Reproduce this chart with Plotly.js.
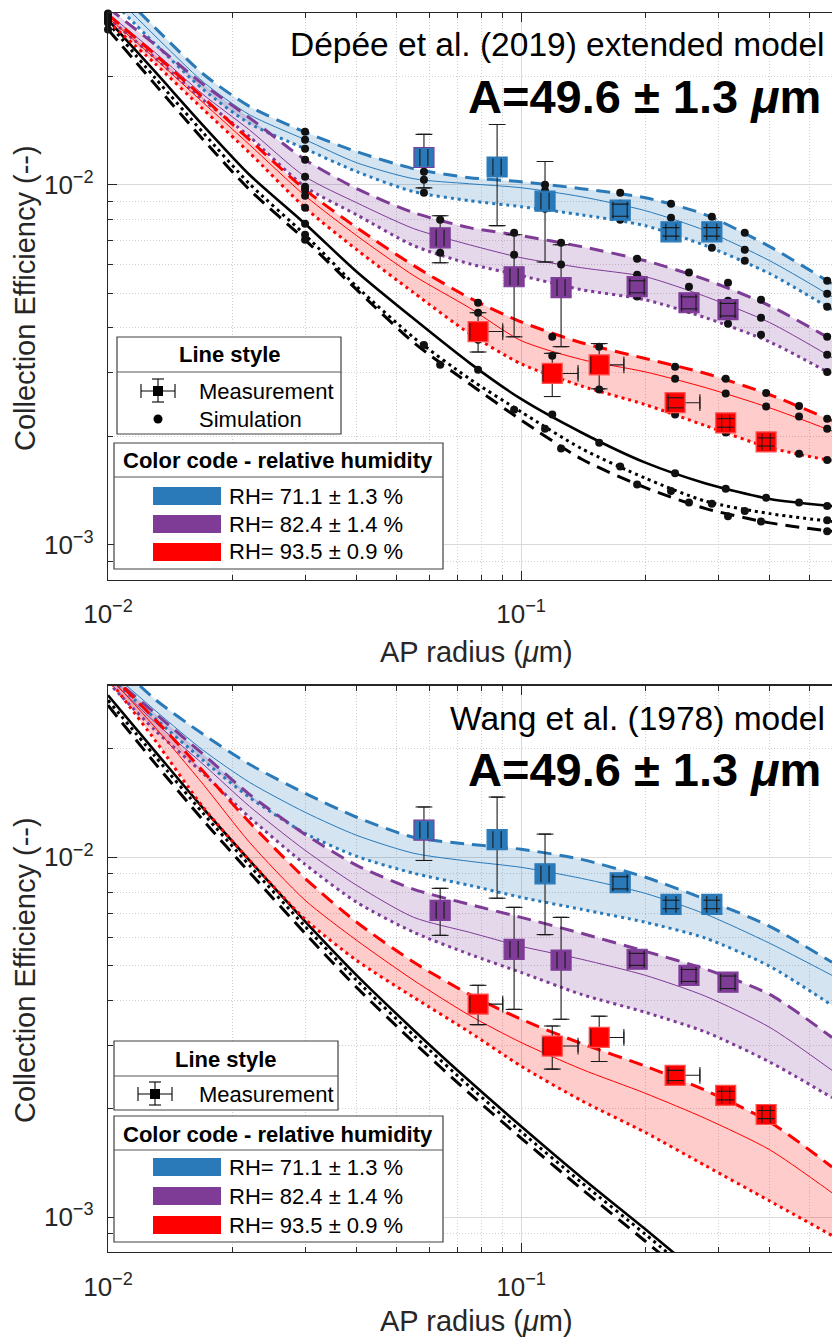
<!DOCTYPE html>
<html><head><meta charset="utf-8">
<script src="https://cdn.plot.ly/plotly-3.0.1.min.js"></script>
<style>html,body{margin:0;padding:0;background:#fff}#chart{width:832px;height:1339px}</style>
</head><body><div id="chart"></div>
<script>
// ---------------- DATA ----------------
const panelTitles = ['Dépée et al. (2019) extended model', 'Wang et al. (1978) model'];
const fitLabel = 'A=49.6 ± 1.3 <i>μ</i>m';
const rhLabels = ['RH= 71.1 ± 1.3 %', 'RH= 82.4 ± 1.4 %', 'RH= 93.5 ± 0.9 %'];
const xTickVals = [0.01, 0.1];
const xTickText = ['10<sup>−2</sup>', '10<sup>−1</sup>'];
const yTickVals = [0.001, 0.01];
const yTickText = ['10<sup>−3</sup>', '10<sup>−2</sup>'];

// model curves (AP radius, µm)
const curveX = [0.01, 0.013, 0.017, 0.022, 0.03, 0.04, 0.055, 0.075, 0.1, 0.14, 0.2, 0.28, 0.4, 0.566];

// Dépée et al. (2019) extended model
const depBlueHi   = [0.0369, 0.0273, 0.0203, 0.0165, 0.0140, 0.01235, 0.01108, 0.01046, 0.01019, 0.00975, 0.0092, 0.00825, 0.00673, 0.00531];
const depBlueMid  = [0.0350, 0.0259, 0.0193, 0.01565, 0.01334, 0.01151, 0.01039, 0.01006, 0.00981, 0.00926, 0.00847, 0.00745, 0.00615, 0.00489];
const depBlueLo   = [0.0333, 0.0246, 0.0184, 0.0148, 0.01259, 0.01087, 0.00956, 0.00903, 0.00869, 0.00825, 0.00769, 0.00677, 0.00566, 0.0045];
const depPurpleHi = [0.0310, 0.0245, 0.0190, 0.01535, 0.01173, 0.00975, 0.00836, 0.0076, 0.00722, 0.00673, 0.00615, 0.00545, 0.00461, 0.00371];
const depPurpleMid= [0.0299, 0.0233, 0.0178, 0.0142, 0.01053, 0.00891, 0.00755, 0.00681, 0.00627, 0.00588, 0.00555, 0.00489, 0.00414, 0.00331];
const depPurpleLo = [0.0291, 0.0225, 0.0172, 0.0136, 0.00987, 0.00825, 0.00677, 0.00603, 0.00559, 0.00511, 0.00479, 0.00427, 0.00366, 0.00297];
const depRedHi    = [0.0297, 0.0230, 0.01745, 0.01334, 0.00969, 0.0076, 0.00596, 0.00485, 0.00416, 0.00364, 0.00329, 0.00299, 0.00261, 0.00221];
const depRedMid   = [0.0291, 0.0224, 0.0169, 0.01292, 0.00932, 0.00722, 0.00559, 0.00455, 0.00369, 0.00327, 0.00302, 0.00273, 0.0024, 0.00207];
const depRedLo    = [0.0284, 0.0217, 0.0162, 0.01227, 0.00863, 0.0066, 0.00501, 0.00386, 0.00318, 0.00276, 0.00245, 0.00214, 0.00186, 0.00171];
const depBlackSolid = [0.0287, 0.0206, 0.0146, 0.01066, 0.00779, 0.00573, 0.00424, 0.0032, 0.00254, 0.00205, 0.00169, 0.00148, 0.00134, 0.00128];
const depBlackDot   = [0.0282, 0.0198, 0.01395, 0.01006, 0.00726, 0.00521, 0.00376, 0.00289, 0.00234, 0.00185, 0.00153, 0.00132, 0.00122, 0.00116];
const depBlackDash  = [0.0270, 0.0190, 0.01334, 0.00969, 0.00703, 0.00511, 0.00364, 0.0028, 0.00222, 0.00173, 0.00144, 0.00126, 0.00115, 0.00109];

// simulation points (Dépée model)
const simBlueX   = [0.01, 0.03, 0.0582, 0.1143, 0.1738, 0.2307, 0.2897, 0.348, 0.551];
const simBlueHi  = [0.0369, 0.01404, 0.01087, 0.0100, 0.0095, 0.00886, 0.00815, 0.00736, 0.00541];
const simBlueMid = [0.0350, 0.01334, 0.01033, 0.00962, 0.00886, 0.0081, 0.00736, 0.0066, 0.00498];
const simBlueLo  = [0.0333, 0.01259, 0.0095, 0.00858, 0.00799, 0.0074, 0.00668, 0.00615, 0.00458];
const simPurpleX   = [0.01, 0.03, 0.0637, 0.0962, 0.125, 0.191, 0.255, 0.317, 0.381, 0.551];
const simPurpleHi  = [0.0310, 0.01173, 0.00799, 0.00736, 0.0069, 0.00623, 0.0057, 0.00534, 0.00479, 0.00378];
const simPurpleMid = [0.0299, 0.01053, 0.00722, 0.00639, 0.0060, 0.00562, 0.00521, 0.00476, 0.00427, 0.00337];
const simPurpleLo  = [0.0291, 0.00987, 0.00647, 0.0057, 0.00511, 0.00489, 0.0045, 0.00411, 0.00383, 0.00302];
const simRedX   = [0.01, 0.03, 0.0787, 0.119, 0.1546, 0.236, 0.313, 0.392, 0.471, 0.551];
const simRedHi  = [0.0297, 0.00969, 0.0047, 0.00378, 0.00355, 0.00312, 0.00289, 0.00264, 0.00243, 0.00224];
const simRedMid = [0.0291, 0.00932, 0.00441, 0.00335, 0.00322, 0.00289, 0.00263, 0.00242, 0.00227, 0.0021];
const simRedLo  = [0.0284, 0.00863, 0.00371, 0.00291, 0.0027, 0.0023, 0.00205, 0.00187, 0.00179, 0.00172];
const simBlackSolid = [0.0287, 0.00779, 0.00306, 0.0023, 0.00192, 0.00158, 0.00143, 0.00135, 0.00131, 0.00128]; // at simRedX
const simBlackDot   = [0.0282, 0.00726, 0.00359, 0.0021, 0.00165, 0.00141, 0.0013, 0.00124, 0.00117];          // at simBlueX
const simBlackDash  = [0.027, 0.00703, 0.00316, 0.00237, 0.00185, 0.00147, 0.00131, 0.0012, 0.00116, 0.00109];  // at simPurpleX

// Wang et al. (1978) model
const wangBlueHi   = [0.0364, 0.02747, 0.02196, 0.01813, 0.01506, 0.01292, 0.01136, 0.01087, 0.01053, 0.00987, 0.0088, 0.00764, 0.00643, 0.00511];
const wangBlueMid  = [0.03328, 0.0256, 0.01983, 0.01616, 0.01334, 0.01151, 0.01026, 0.00975, 0.00938, 0.00874, 0.00794, 0.00695, 0.00577, 0.0047];
const wangBlueLo   = [0.03203, 0.02433, 0.0186, 0.01468, 0.01166, 0.01006, 0.00903, 0.00836, 0.00774, 0.00717, 0.0066, 0.00596, 0.00498, 0.00388];
const wangPurpleHi = [0.03244, 0.02512, 0.01933, 0.01496, 0.01158, 0.0095, 0.00815, 0.0074, 0.00681, 0.00615, 0.00548, 0.00489, 0.00416, 0.00316];
const wangPurpleMid= [0.03162, 0.02371, 0.01813, 0.01386, 0.01046, 0.00836, 0.00681, 0.00619, 0.00566, 0.00521, 0.0047, 0.00411, 0.00337, 0.00256];
const wangPurpleLo = [0.03063, 0.02253, 0.01711, 0.01292, 0.00956, 0.0075, 0.00619, 0.00538, 0.00479, 0.00416, 0.00371, 0.00327, 0.0027, 0.00215];
const wangRedHi    = [0.03265, 0.02417, 0.01733, 0.01251, 0.00874, 0.0066, 0.00511, 0.00416, 0.00355, 0.00304, 0.00263, 0.00225, 0.00184, 0.00138];
const wangRedMid   = [0.03203, 0.02297, 0.01595, 0.01101, 0.0076, 0.00588, 0.00455, 0.00364, 0.00306, 0.00258, 0.00221, 0.00188, 0.00154, 0.00117];
const wangRedLo    = [0.03142, 0.02114, 0.01377, 0.00981, 0.00673, 0.00517, 0.00408, 0.00327, 0.00263, 0.00211, 0.00172, 0.00139, 0.00111, 0.00089];
const wangBlackSolid = [0.02818, 0.0197, 0.01368, 0.00981, 0.00664, 0.0047, 0.00331, 0.00239, 0.00179, 0.00129, 0.000926, 0.000673, 0.000485, 0.000355];
const wangBlackDot   = [0.0273, 0.01908, 0.01325, 0.0095, 0.00643, 0.00455, 0.0032, 0.00231, 0.00173, 0.00125, 0.000897, 0.000651, 0.00047, 0.000344];
const wangBlackDash  = [0.02644, 0.01824, 0.01267, 0.00909, 0.00615, 0.00435, 0.00306, 0.00221, 0.00166, 0.0012, 0.000858, 0.000623, 0.00045, 0.000329];

// measurements
const measBlueX = [0.0582, 0.0875, 0.1143, 0.1738, 0.2307, 0.2897];
const measBlueY = [0.0119, 0.0112, 0.0090, 0.0085, 0.0074, 0.0074];
const measBlueErrYPlus  = [0.0019, 0.0035, 0.0026, 0.00033, 0.0002, 0.0002];
const measBlueErrYMinus = [0.0021, 0.0035, 0.0029, 0.00033, 0.0002, 0.0002];
const measBlueErrX = [0.0013, 0.002, 0.0026, 0.0069, 0.0065, 0.0081];
const measPurpleX = [0.0637, 0.0962, 0.125, 0.191, 0.255, 0.317];
const measPurpleY = [0.00712, 0.00555, 0.00518, 0.00521, 0.0047, 0.0045];
const measPurpleErrYPlus  = [0.00108, 0.00171, 0.00163, 0.0002, 0.00018, 0.00018];
const measPurpleErrYMinus = [0.00105, 0.00177, 0.00163, 0.0002, 0.00018, 0.00018];
const measPurpleErrX = [0.0014, 0.0022, 0.0028, 0.0076, 0.0102, 0.0127];
const measRedX = [0.0787, 0.119, 0.1546, 0.236, 0.313, 0.392];
const measRedY = [0.00391, 0.00299, 0.00316, 0.00248, 0.00218, 0.00193];
const measRedErrYPlus  = [0.0005, 0.00041, 0.00046, 0.00008, 0.00006, 0.00005];
const measRedErrYMinus = [0.00048, 0.00041, 0.00045, 0.00008, 0.00006, 0.00005];
const measRedErrXPlus  = [0.0116, 0.0184, 0.0228, 0.035, 0.007, 0.009];
const measRedErrXMinus = [0.0035, 0.006, 0.007, 0.009, 0.007, 0.009];

// ---------------- DRAWING ----------------
const W = 832, H = 1339;
const PX = v => v / W;
const PY = v => 1 - v / H;
const FONT = 'Liberation Sans, Arial, Helvetica, sans-serif';
const TXT = '#262626';
const EB = '#1a1a1a';
const COL = {blue: '#2A7AB9', purple: '#7E3C97', red: '#FF0000'};
const FILL = {blue: 'rgba(42,122,185,0.2)', purple: 'rgba(126,60,151,0.2)', red: 'rgba(255,0,0,0.2)'};
const DASH = '14px,8px', DOT = '3px,4px';
const SM = 0.7;

const traces = [];
function band(xa, ya, hi, lo, fill) {
  traces.push({x: curveX, y: hi, xaxis: xa, yaxis: ya, mode: 'lines', line: {width: 0, shape: 'spline', smoothing: SM}, hoverinfo: 'skip'});
  traces.push({x: curveX, y: lo, xaxis: xa, yaxis: ya, mode: 'lines', fill: 'tonexty', fillcolor: fill, line: {width: 0, shape: 'spline', smoothing: SM}, hoverinfo: 'skip'});
}
function line(xa, ya, y, color, width, dash) {
  traces.push({x: curveX, y: y, xaxis: xa, yaxis: ya, mode: 'lines', line: {color: color, width: width, dash: dash, shape: 'spline', smoothing: SM}, hoverinfo: 'skip'});
}
function dots(xa, ya, x, y) {
  traces.push({x: x, y: y, xaxis: xa, yaxis: ya, mode: 'markers', cliponaxis: false, marker: {symbol: 'circle', size: 8, color: '#111111'}, hoverinfo: 'skip'});
}
function meas(xa, ya, x, y, ep, em, exp, exm, color, edge) {
  traces.push({x: x, y: y, xaxis: xa, yaxis: ya, mode: 'markers', marker: {size: 2, opacity: 0}, hoverinfo: 'skip',
    error_y: {type: 'data', symmetric: false, array: ep, arrayminus: em, color: EB, thickness: 1.1, width: 6},
    error_x: {type: 'data', symmetric: false, array: exp, arrayminus: exm, color: EB, thickness: 1.1, width: 6}});
  traces.push({x: x, y: y, xaxis: xa, yaxis: ya, mode: 'markers', marker: {symbol: 'square', size: 20, color: color, line: {color: edge, width: 1.2}}, hoverinfo: 'skip'});
  const capX = [], capXy = [], capY = [], capYx = [];
  x.forEach((xi, i) => {
    capX.push(xi + exp[i], xi - exm[i]); capXy.push(y[i], y[i]);
    capYx.push(xi, xi); capY.push(y[i] + ep[i], y[i] - em[i]);
  });
  traces.push({x: capX, y: capXy, xaxis: xa, yaxis: ya, mode: 'markers', marker: {symbol: 'line-ns', size: 12, line: {color: EB, width: 1.1}}, hoverinfo: 'skip'});
  traces.push({x: capYx, y: capY, xaxis: xa, yaxis: ya, mode: 'markers', marker: {symbol: 'line-ew', size: 12, line: {color: EB, width: 1.1}}, hoverinfo: 'skip'});
}

function panel(xa, ya, d, withSim) {
  band(xa, ya, d.bH, d.bL, FILL.blue);
  band(xa, ya, d.pH, d.pL, FILL.purple);
  band(xa, ya, d.rH, d.rL, FILL.red);
  line(xa, ya, d.kS, '#000', 2.6, 'solid');
  line(xa, ya, d.kD, '#000', 3, DOT);
  line(xa, ya, d.kA, '#000', 3, DASH);
  [['b', 'blue'], ['p', 'purple'], ['r', 'red']].forEach(([k, c]) => {
    line(xa, ya, d[k + 'H'], COL[c], 3, DASH);
    line(xa, ya, d[k + 'M'], COL[c], 1, 'solid');
    line(xa, ya, d[k + 'L'], COL[c], 3, DOT);
  });
  if (withSim) {
    dots(xa, ya, simBlueX, simBlueHi); dots(xa, ya, simBlueX, simBlueMid); dots(xa, ya, simBlueX, simBlueLo);
    dots(xa, ya, simPurpleX, simPurpleHi); dots(xa, ya, simPurpleX, simPurpleMid); dots(xa, ya, simPurpleX, simPurpleLo);
    dots(xa, ya, simRedX, simRedHi); dots(xa, ya, simRedX, simRedMid); dots(xa, ya, simRedX, simRedLo);
    dots(xa, ya, simRedX, simBlackSolid); dots(xa, ya, simBlueX, simBlackDot); dots(xa, ya, simPurpleX, simBlackDash);
  }
  meas(xa, ya, measBlueX, measBlueY, measBlueErrYPlus, measBlueErrYMinus, measBlueErrX, measBlueErrX, COL.blue,
       [COL.purple, COL.blue, COL.blue, COL.blue, COL.blue, COL.blue]);
  meas(xa, ya, measPurpleX, measPurpleY, measPurpleErrYPlus, measPurpleErrYMinus, measPurpleErrX, measPurpleErrX, COL.purple, COL.purple);
  meas(xa, ya, measRedX, measRedY, measRedErrYPlus, measRedErrYMinus, measRedErrXPlus, measRedErrXMinus, COL.red, '#ff5050');
}

panel('x', 'y', {bH: depBlueHi, bM: depBlueMid, bL: depBlueLo, pH: depPurpleHi, pM: depPurpleMid, pL: depPurpleLo,
  rH: depRedHi, rM: depRedMid, rL: depRedLo, kS: depBlackSolid, kD: depBlackDot, kA: depBlackDash}, true);
panel('x2', 'y2', {bH: wangBlueHi, bM: wangBlueMid, bL: wangBlueLo, pH: wangPurpleHi, pM: wangPurpleMid, pL: wangPurpleLo,
  rH: wangRedHi, rM: wangRedMid, rL: wangRedLo, kS: wangBlackSolid, kD: wangBlackDot, kA: wangBlackDash}, false);

const minorX = [], minorY = [];
[0.01, 0.1].forEach(d => { for (let k = 2; k <= 9; k++) minorX.push(k * d); });
[0.0001, 0.001, 0.01].forEach(d => { for (let k = 2; k <= 9; k++) minorY.push(k * d); });

const xRange = [-2, Math.log10(0.566)];
const yRange = [Math.log10(8e-4), -1.523];
const topDom = [PY(579.6), PY(13)];
const botDom = [PY(1252.2), PY(685.6)];
const xDom = [108 / W, 1];

function xax(anchor) {
  return {type: 'log', range: xRange, domain: xDom, anchor: anchor, tickmode: 'array', tickvals: xTickVals, ticktext: xTickText,
    ticks: 'inside', ticklen: 9, tickwidth: 1, tickcolor: TXT, showline: true, linecolor: TXT, linewidth: 1.2, mirror: 'ticks',
    showgrid: true, gridcolor: '#d9d9d9', gridwidth: 1, zeroline: false, ticklabelstandoff: 11,
    tickfont: {family: FONT, size: 26, color: TXT},
    minor: {tickmode: 'array', tickvals: minorX, ticks: 'inside', ticklen: 5, tickcolor: TXT, showgrid: true, gridcolor: '#cfcfcf', griddash: '1px,2px', gridwidth: 1},
    fixedrange: true};
}
function yax(anchor, dom) {
  return {type: 'log', range: yRange, domain: dom, anchor: anchor, tickmode: 'array', tickvals: yTickVals, ticktext: yTickText,
    ticks: 'inside', ticklen: 9, tickwidth: 1, tickcolor: TXT, showline: true, linecolor: TXT, linewidth: 1.2, mirror: false,
    showgrid: true, gridcolor: '#d9d9d9', gridwidth: 1, zeroline: false, ticklabelstandoff: 8,
    tickfont: {family: FONT, size: 26, color: TXT},
    minor: {tickmode: 'array', tickvals: minorY, ticks: 'inside', ticklen: 5, tickcolor: TXT, showgrid: true, gridcolor: '#cfcfcf', griddash: '1px,2px', gridwidth: 1},
    fixedrange: true};
}

const shapes = [], annotations = [];
function txt(text, x, y, size, opts) {
  annotations.push(Object.assign({text: text, x: PX(x), y: PY(y), xref: 'paper', yref: 'paper', showarrow: false,
    xanchor: 'center', yanchor: 'middle', font: {family: FONT, size: size, color: '#000'}}, opts || {}));
}
function rect(x0, y0, x1, y1, fill, lc, lw) {
  shapes.push({type: 'rect', xref: 'paper', yref: 'paper', x0: PX(x0), x1: PX(x1), y0: PY(y1), y1: PY(y0),
    fillcolor: fill, line: {color: lc || fill, width: lw === undefined ? 0 : lw}, layer: 'above'});
}
function seg(x0, y0, x1, y1, color, w) {
  shapes.push({type: 'line', xref: 'paper', yref: 'paper', x0: PX(x0), x1: PX(x1), y0: PY(y0), y1: PY(y1),
    line: {color: color, width: w}, layer: 'above'});
}
function measSymbol(cx, cy) {
  seg(cx - 17, cy, cx + 17, cy, '#000', 1.1);
  seg(cx - 17, cy - 7, cx - 17, cy + 7, '#000', 1.1);
  seg(cx + 17, cy - 7, cx + 17, cy + 7, '#000', 1.1);
  seg(cx, cy - 12, cx, cy + 11, '#000', 1.1);
  seg(cx - 6, cy - 12, cx + 6, cy - 12, '#000', 1.1);
  seg(cx - 6, cy + 11, cx + 6, cy + 11, '#000', 1.1);
  rect(cx - 5, cy - 5, cx + 5, cy + 5, '#000');
}
function legends(o) {
  rect(o.lx0, o.ly0, o.lx1, o.ly1, '#fff', '#404040', 1.2);
  seg(o.lx0, o.lsep, o.lx1, o.lsep, '#555', 1);
  txt('<b>Line style</b>', (o.lx0 + o.lx1) / 2, o.lhead, 22);
  measSymbol(o.symX, o.measY);
  txt('Measurement', 197, o.measY, 22, {xanchor: 'left'});
  if (o.simY) {
    shapes.push({type: 'circle', xref: 'paper', yref: 'paper', x0: PX(o.symX - 4.5), x1: PX(o.symX + 4.5), y0: PY(o.simY + 4.5), y1: PY(o.simY - 4.5),
      fillcolor: '#000', line: {width: 0}, layer: 'above'});
    txt('Simulation', 197, o.simY, 22, {xanchor: 'left'});
  }
  rect(114, o.cy0, 443, o.cy1, '#fff', '#404040', 1.2);
  seg(114, o.csep, 443, o.csep, '#555', 1);
  txt('<b>Color code - relative humidity</b>', 278, o.chead, 22);
  [COL.blue, COL.purple, COL.red].forEach((c, i) => {
    const yc = o.rows[i];
    rect(153, yc - 9, 221, yc + 9, c);
    txt(rhLabels[i], 227, yc, 22, {xanchor: 'left'});
  });
}
legends({lx0: 117, lx1: 341, ly0: 337, ly1: 434, lsep: 372, lhead: 355, symX: 158, measY: 391, simY: 419,
  cy0: 443, cy1: 569, csep: 477, chead: 461, rows: [496, 524, 552]});
legends({lx0: 114, lx1: 338, ly0: 1041, ly1: 1110, lsep: 1076, lhead: 1059, symX: 155, measY: 1094, simY: null,
  cy0: 1116, cy1: 1242, csep: 1150, chead: 1134, rows: [1167, 1196, 1225]});

txt(panelTitles[0], 827, 45, 33.5, {xanchor: 'right'});
txt('<b>' + fitLabel + '</b>', 823, 97, 47, {xanchor: 'right'});
txt(panelTitles[1], 827, 718, 33.5, {xanchor: 'right'});
txt('<b>' + fitLabel + '</b>', 823, 769, 47, {xanchor: 'right'});
const TF = {family: FONT, size: 29, color: TXT};
txt('AP radius (<i>μ</i>m)', 476, 652, 29, {font: TF});
txt('AP radius (<i>μ</i>m)', 476, 1321, 29, {font: TF});
txt('Collection Efficiency (--)', 25, 298, 29, {textangle: -90, font: TF});
txt('Collection Efficiency (--)', 25, 970, 29, {textangle: -90, font: TF});

const layout = {
  width: W, height: H, margin: {l: 0, r: 0, t: 0, b: 0}, paper_bgcolor: '#fff', plot_bgcolor: '#fff',
  showlegend: false, hovermode: false, font: {family: FONT, color: TXT},
  xaxis: xax('y'), yaxis: yax('x', topDom), xaxis2: xax('y2'), yaxis2: yax('x2', botDom),
  shapes: shapes, annotations: annotations
};
traces.forEach(t => t.showlegend = false);
Plotly.newPlot('chart', traces, layout, {staticPlot: true, displayModeBar: false});
</script></body></html>
